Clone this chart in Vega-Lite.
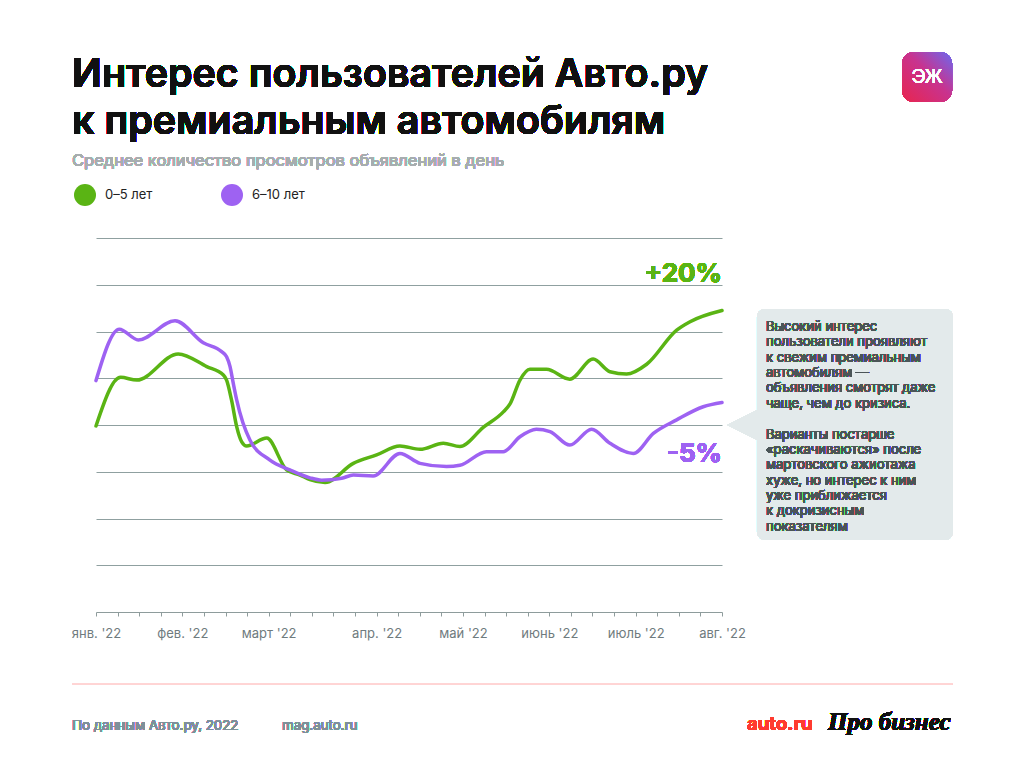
{
  "$schema": "https://vega.github.io/schema/vega-lite/v6.json",
  "autosize": {"type": "none"},
  "width": 626,
  "height": 374,
  "padding": {"left": 96, "top": 238, "right": 302, "bottom": 156},
  "background": "#ffffff",
  "config": {"view": {"stroke": null}, "font": "Inter"},
  "data": {
    "values": [
      {"series": "0–5 лет", "w": 0, "v": 3.98},
      {"series": "0–5 лет", "w": 1.14, "v": 5.02},
      {"series": "0–5 лет", "w": 1.89, "v": 4.96},
      {"series": "0–5 лет", "w": 3.81, "v": 5.52},
      {"series": "0–5 лет", "w": 5.13, "v": 5.25},
      {"series": "0–5 лет", "w": 5.9, "v": 5.07},
      {"series": "0–5 лет", "w": 6.05, "v": 4.96},
      {"series": "0–5 лет", "w": 6.28, "v": 4.53},
      {"series": "0–5 лет", "w": 6.52, "v": 3.96},
      {"series": "0–5 лет", "w": 6.75, "v": 3.64},
      {"series": "0–5 лет", "w": 6.98, "v": 3.55},
      {"series": "0–5 лет", "w": 7.91, "v": 3.72},
      {"series": "0–5 лет", "w": 8.83, "v": 3.04},
      {"series": "0–5 лет", "w": 9.45, "v": 2.93},
      {"series": "0–5 лет", "w": 9.91, "v": 2.83},
      {"series": "0–5 лет", "w": 10.61, "v": 2.77},
      {"series": "0–5 лет", "w": 11.92, "v": 3.18},
      {"series": "0–5 лет", "w": 13.0, "v": 3.36},
      {"series": "0–5 лет", "w": 14.08, "v": 3.55},
      {"series": "0–5 лет", "w": 15.01, "v": 3.48},
      {"series": "0–5 лет", "w": 16.09, "v": 3.61},
      {"series": "0–5 лет", "w": 16.86, "v": 3.54},
      {"series": "0–5 лет", "w": 17.94, "v": 3.95},
      {"series": "0–5 лет", "w": 18.87, "v": 4.28},
      {"series": "0–5 лет", "w": 19.18, "v": 4.45},
      {"series": "0–5 лет", "w": 19.64, "v": 4.96},
      {"series": "0–5 лет", "w": 20.1, "v": 5.19},
      {"series": "0–5 лет", "w": 20.87, "v": 5.19},
      {"series": "0–5 лет", "w": 21.95, "v": 4.98},
      {"series": "0–5 лет", "w": 23.03, "v": 5.41},
      {"series": "0–5 лет", "w": 23.81, "v": 5.14},
      {"series": "0–5 лет", "w": 24.58, "v": 5.09},
      {"series": "0–5 лет", "w": 25.51, "v": 5.3},
      {"series": "0–5 лет", "w": 26.9, "v": 6.03},
      {"series": "0–5 лет", "w": 27.52, "v": 6.21},
      {"series": "0–5 лет", "w": 29, "v": 6.45},
      {"series": "6–10 лет", "w": 0, "v": 4.95},
      {"series": "6–10 лет", "w": 1.08, "v": 6.05},
      {"series": "6–10 лет", "w": 1.96, "v": 5.82},
      {"series": "6–10 лет", "w": 3.66, "v": 6.23},
      {"series": "6–10 лет", "w": 4.97, "v": 5.76},
      {"series": "6–10 лет", "w": 5.82, "v": 5.57},
      {"series": "6–10 лет", "w": 6.05, "v": 5.46},
      {"series": "6–10 лет", "w": 6.21, "v": 5.25},
      {"series": "6–10 лет", "w": 6.36, "v": 4.89},
      {"series": "6–10 лет", "w": 6.52, "v": 4.53},
      {"series": "6–10 лет", "w": 7.13, "v": 3.68},
      {"series": "6–10 лет", "w": 8.06, "v": 3.25},
      {"series": "6–10 лет", "w": 8.98, "v": 3.04},
      {"series": "6–10 лет", "w": 9.91, "v": 2.87},
      {"series": "6–10 лет", "w": 10.45, "v": 2.82},
      {"series": "6–10 лет", "w": 11.38, "v": 2.86},
      {"series": "6–10 лет", "w": 11.92, "v": 2.93},
      {"series": "6–10 лет", "w": 12.84, "v": 2.91},
      {"series": "6–10 лет", "w": 14.08, "v": 3.39},
      {"series": "6–10 лет", "w": 15.01, "v": 3.18},
      {"series": "6–10 лет", "w": 16.24, "v": 3.11},
      {"series": "6–10 лет", "w": 16.86, "v": 3.14},
      {"series": "6–10 лет", "w": 18.09, "v": 3.43},
      {"series": "6–10 лет", "w": 18.87, "v": 3.43},
      {"series": "6–10 лет", "w": 19.64, "v": 3.75},
      {"series": "6–10 лет", "w": 20.4, "v": 3.91},
      {"series": "6–10 лет", "w": 21.03, "v": 3.86},
      {"series": "6–10 лет", "w": 21.95, "v": 3.57},
      {"series": "6–10 лет", "w": 22.96, "v": 3.91},
      {"series": "6–10 лет", "w": 23.81, "v": 3.61},
      {"series": "6–10 лет", "w": 24.89, "v": 3.39},
      {"series": "6–10 лет", "w": 25.82, "v": 3.82},
      {"series": "6–10 лет", "w": 26.9, "v": 4.11},
      {"series": "6–10 лет", "w": 28.13, "v": 4.39},
      {"series": "6–10 лет", "w": 29, "v": 4.48}
    ]
  },
  "layer": [
    {
      "mark": {"type": "line", "strokeWidth": 3.5, "interpolate": "monotone", "strokeCap": "round", "strokeJoin": "round"},
      "encoding": {
        "x": {
          "field": "w", "type": "quantitative",
          "scale": {"domain": [0, 29], "nice": false, "zero": false},
          "axis": {
            "title": null,
            "grid": false,
            "tickCount": 60,
            "values": [0,1,2,3,4,5,6,7,8,9,10,11,12,13,14,15,16,17,18,19,20,21,22,23,24,25,26,27,28,29],
            "labelExpr": "datum.value==0?\"янв. '22\":datum.value==4?\"фев. '22\":datum.value==8?\"март '22\":datum.value==13?\"апр. '22\":datum.value==17?\"май '22\":datum.value==21?\"июнь '22\":datum.value==25?\"июль '22\":datum.value==29?\"авг. '22\":\"\"",
            "labelFlush": false,
            "labelOverlap": false,
            "labelFont": "Inter",
            "labelFontSize": 13,
            "labelColor": "#6f7b7e",
            "labelPadding": 11,
            "domainColor": "#8e9c9c",
            "tickColor": "#8e9c9c",
            "tickSize": 4
          }
        },
        "y": {
          "field": "v", "type": "quantitative",
          "scale": {"domain": [0, 8], "nice": false},
          "axis": {
            "title": null,
            "values": [1,2,3,4,5,6,7,8],
            "labels": false,
            "ticks": false,
            "domain": false,
            "grid": true,
            "gridColor": "#8fa0a0",
            "gridWidth": 1
          }
        },
        "color": {
          "field": "series", "type": "nominal",
          "scale": {"domain": ["0–5 лет", "6–10 лет"], "range": ["#5ab414", "#9e62f2"]},
          "legend": {
            "title": null,
            "orient": "none",
            "legendX": -22,
            "legendY": -54,
            "direction": "horizontal",
            "padding": 0,
            "columnPadding": 68,
            "labelOffset": 9,
            "labelFont": "Inter",
            "labelFontSize": 13,
            "labelColor": "#222222",
            "symbolType": "circle",
            "symbolSize": 484,
            "encode": {
              "symbols": {
                "update": {
                  "fill": {"scale": "color", "field": "value"},
                  "fillOpacity": {"value": 1},
                  "strokeWidth": {"value": 0},
                  "shape": {"value": "circle"},
                  "size": {"value": 484}
                }
              }
            }
          }
        }
      }
    },
    {
      "mark": {"type": "text", "text": ["Интерес пользователей Авто.ру", "к премиальным автомобилям"], "align": "left", "baseline": "alphabetic", "font": "Inter", "fontSize": 39.4, "fontWeight": 600, "lineHeight": 47, "color": "#111111"},
      "encoding": {"x": {"datum": -1.11}, "y": {"datum": 11.23}}
    },
    {
      "mark": {"type": "text", "text": "Среднее количество просмотров объявлений в день", "align": "left", "baseline": "alphabetic", "font": "Inter", "fontSize": 16.5, "fontWeight": 400, "color": "#a7adaf"},
      "encoding": {"x": {"datum": -1.11}, "y": {"datum": 9.54}}
    },
    {
      "mark": {"type": "text", "text": "+20%", "align": "right", "baseline": "alphabetic", "font": "Inter", "fontSize": 26, "fontWeight": 700, "color": "#5ab414"},
      "encoding": {"x": {"datum": 29}, "y": {"datum": 7.06}}
    },
    {
      "mark": {"type": "text", "text": "-5%", "align": "right", "baseline": "alphabetic", "font": "Inter", "fontSize": 26, "fontWeight": 700, "color": "#9e62f2"},
      "encoding": {"x": {"datum": 29}, "y": {"datum": 3.21}}
    },
    {
      "mark": {"type": "rect", "color": "#e3eaeb", "cornerRadius": 8},
      "encoding": {"x": {"datum": 30.62}, "x2": {"datum": 39.7}, "y": {"datum": 6.48}, "y2": {"datum": 1.54}}
    },
    {
      "mark": {"type": "point", "shape": "M -1 0 L 1 -1 L 1 1 Z", "size": 1600, "filled": true, "opacity": 1, "color": "#e3eaeb"},
      "encoding": {"x": {"datum": 30.16}, "y": {"datum": 4.0}}
    },
    {
      "mark": {
        "type": "text", "align": "left", "baseline": "alphabetic", "font": "Inter", "fontSize": 13, "lineHeight": 15.35, "color": "#4b5557",
        "text": ["Высокий интерес", "пользователи проявляют", "к свежим премиальным", "автомобилям —", "объявления смотрят даже", "чаще, чем до кризиса."]
      },
      "encoding": {"x": {"datum": 31.04}, "y": {"datum": 6.01}}
    },
    {
      "mark": {
        "type": "text", "align": "left", "baseline": "alphabetic", "font": "Inter", "fontSize": 13, "lineHeight": 15.35, "color": "#4b5557",
        "text": ["Варианты постарше", "«раскачиваются» после", "мартовского ажиотажа", "хуже, но интерес к ним", "уже приближается", "к докризисным", "показателям"]
      },
      "encoding": {"x": {"datum": 31.04}, "y": {"datum": 3.71}}
    },
    {
      "mark": {"type": "rect", "cornerRadius": 12, "fill": {"gradient": "linear", "x1": 0, "y1": 1, "x2": 1, "y2": 0, "stops": [{"offset": 0, "color": "#e8254e"}, {"offset": 0.55, "color": "#c8338f"}, {"offset": 1, "color": "#6c68ee"}]}},
      "encoding": {"x": {"datum": 37.34}, "x2": {"datum": 39.66}, "y": {"datum": 11.98}, "y2": {"datum": 10.91}}
    },
    {
      "mark": {"type": "text", "text": "ЭЖ", "align": "center", "baseline": "middle", "font": "Inter", "fontSize": 19, "fontWeight": 300, "color": "#ffffff"},
      "encoding": {"x": {"datum": 38.5}, "y": {"datum": 11.44}}
    },
    {
      "mark": {"type": "rule", "color": "#ffd4d4", "strokeWidth": 1},
      "encoding": {"x": {"datum": -1.11}, "x2": {"datum": 39.66}, "y": {"datum": -1.54}}
    },
    {
      "mark": {"type": "text", "text": "По данным Авто.ру, 2022", "align": "left", "baseline": "alphabetic", "font": "Inter", "fontSize": 13.3, "color": "#7f909a"},
      "encoding": {"x": {"datum": -1.11}, "y": {"datum": -2.52}}
    },
    {
      "mark": {"type": "text", "text": "mag.auto.ru", "align": "left", "baseline": "alphabetic", "font": "Inter", "fontSize": 13.3, "color": "#7f909a"},
      "encoding": {"x": {"datum": 8.62}, "y": {"datum": -2.52}}
    },
    {
      "mark": {"type": "text", "text": "auto.ru", "align": "left", "baseline": "alphabetic", "font": "Inter", "fontSize": 18.5, "fontWeight": 700, "color": "#ff3b30"},
      "encoding": {"x": {"datum": 30.16}, "y": {"datum": -2.52}}
    },
    {
      "mark": {"type": "text", "text": "Про бизнес", "align": "left", "baseline": "alphabetic", "font": "Liberation Serif", "fontStyle": "italic", "fontSize": 25, "fontWeight": 700, "color": "#111111"},
      "encoding": {"x": {"datum": 33.91}, "y": {"datum": -2.52}}
    }
  ]
}
